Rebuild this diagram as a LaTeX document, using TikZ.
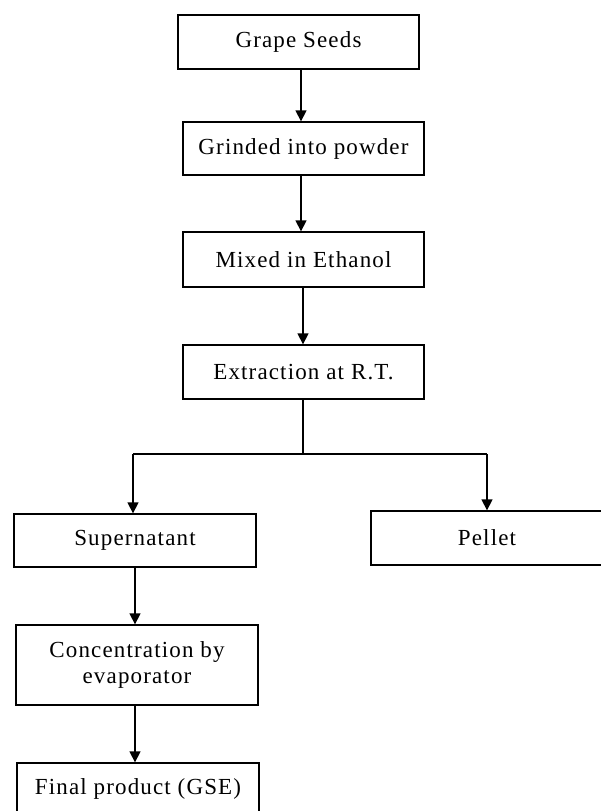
\documentclass[tikz,border=0pt]{standalone}
\usepackage{fontspec}
\setmainfont{Liberation Serif}[LetterSpace=5]
\usetikzlibrary{arrows.meta}
\begin{document}
\begin{tikzpicture}[x=1pt,y=-1pt,
  box/.style={draw, line width=1.3pt, rectangle, inner sep=0pt, align=center,
    font=\fontsize{23}{26}\selectfont},
  link/.style={line width=1.3pt},
  arr/.style={line width=1.3pt, -{Triangle[length=11pt,width=11pt]}}]
\useasboundingbox (0,0) rectangle (601,811);
\node[box, minimum width=241pt, minimum height=54pt] (gs) at (298.5,42) {Grape Seeds};
\node[box, minimum width=241pt, minimum height=53pt] (gr) at (303.5,148.5) {Grinded into powder};
\node[box, minimum width=241pt, minimum height=55pt] (mx) at (303.5,259.5) {Mixed in Ethanol};
\node[box, minimum width=241pt, minimum height=54pt] (ex) at (303.5,372) {Extraction at R.T.};
\node[box, minimum width=242pt, minimum height=53pt] (su) at (135,540.5) {Supernatant};
\node[box, minimum width=232pt, minimum height=54pt] (pe) at (487,538) {Pellet};
\node[box, minimum width=242pt, minimum height=80pt] (co) at (137,665) {Concentration by\\evaporator};
\node[box, minimum width=242pt, minimum height=52pt] (fi) at (138,789) {Final product (GSE)};
\coordinate (c1) at (301,0);
\coordinate (c2) at (303,0);
\coordinate (hl) at (0,454);
\coordinate (cl) at (133,0);
\coordinate (cr) at (487,0);
\coordinate (cb) at (135,0);
\draw[arr] (gs.south -| c1) -- (gr.north -| c1);
\draw[arr] (gr.south -| c1) -- (mx.north -| c1);
\draw[arr] (mx.south -| c2) -- (ex.north -| c2);
\draw[link] (ex.south -| c2) -- (c2 |- hl);
\draw[link] (cl |- hl) -- (cr |- hl);
\draw[arr] (cl |- hl) -- (su.north -| cl);
\draw[arr] (cr |- hl) -- (pe.north -| cr);
\draw[arr] (su.south -| cb) -- (co.north -| cb);
\draw[arr] (co.south -| cb) -- (fi.north -| cb);
\end{tikzpicture}
\end{document}
